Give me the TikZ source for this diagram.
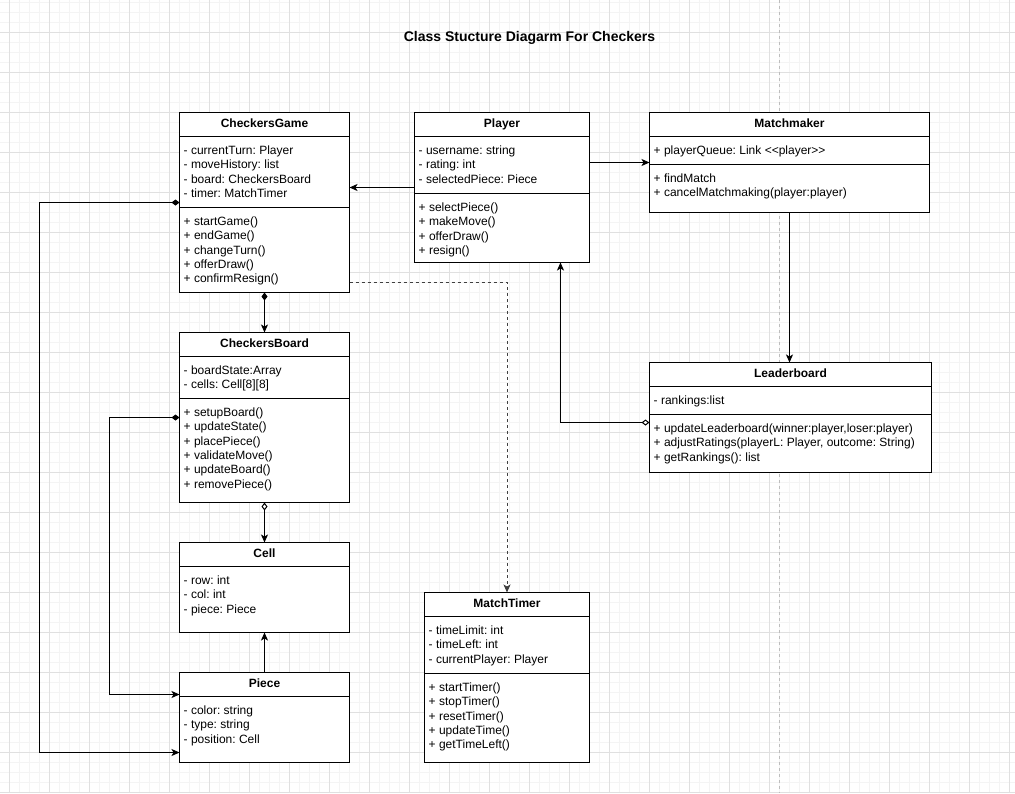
\documentclass[tikz,border=0pt]{standalone}
\usepackage{fontspec}
\setmainfont{Liberation Sans}
\usetikzlibrary{arrows.meta}
\definecolor{gridminor}{HTML}{F4F4F4}
\definecolor{gridmajor}{HTML}{E0E0E0}
\definecolor{pagebreak}{HTML}{BDBDBD}
\frenchspacing
\tikzset{
  box/.style={draw=black, line width=1pt, fill=white, inner sep=0pt, outer sep=0pt, anchor=north west},
  sep/.style={draw=black, line width=1pt},
  txt/.style={anchor=base west, inner sep=0pt, font=\fontsize{12}{14.4}\selectfont},
  ttl/.style={anchor=base, inner sep=0pt, font=\bfseries\fontsize{12}{14.4}\selectfont},
  conn/.style={draw=black, line width=1pt},
  uarr/.tip={Stealth[length=8pt,width=7pt,inset=2pt]},
  udia/.tip={Diamond[length=8pt,width=6pt]},
  uodia/.tip={Diamond[open,fill=white,length=8pt,width=6pt]}
}
\newcommand{\umlclass}[6]{%
  \node[box, minimum width=#4pt, minimum height=#5pt] (#1) at (#2,#3) {};
  \draw[sep] ({#2},{#3+24}) -- ({#2+#4},{#3+24});
  \node[ttl] (#1-title) at ({#2+#4/2},{#3+15.3}) {#6};
}
\newcommand{\umlsec}[5]{%
  \draw[sep] ({#1},{#3}) -- ({#2},{#3});
  \foreach \t [count=\i] in {#5}{%
    \node[txt] (#4\i) at ({#1+4},{#3+17.8+14.4*(\i-1)}) {\frenchspacing\t};
  }%
}
\begin{document}
\begin{tikzpicture}[x=1pt,y=-1pt]
\useasboundingbox (0,0) rectangle (1015,793);
\fill[white] (0,0) rectangle (1015,793);
% grid
\foreach \k in {0,...,100} \draw[gridminor, line width=1pt] ({9.5+10*\k},0) -- ({9.5+10*\k},793);
\foreach \k in {0,...,79} \draw[gridminor, line width=1pt] (0,{2.5+10*\k}) -- (1015,{2.5+10*\k});
\foreach \k in {0,...,25} \draw[gridmajor, line width=1pt] ({9.5+40*\k},0) -- ({9.5+40*\k},793);
\foreach \k in {0,...,19} \draw[gridmajor, line width=1pt] (0,{32.5+40*\k}) -- (1015,{32.5+40*\k});
\draw[pagebreak, line width=1pt, dash pattern=on 3pt off 3pt] (779.5,0) -- (779.5,793);

% title
\node[anchor=base, inner sep=0pt, font=\bfseries\fontsize{14}{16}\selectfont] (title) at (529.5,41.5) {Class Stucture Diagarm For Checkers};

% CheckersGame
\umlclass{cg}{179.5}{112.5}{170}{180}{CheckersGame}
\umlsec{179.5}{349.5}{136.5}{cga}{- currentTurn: Player,- moveHistory: list,- board: CheckersBoard,- timer: MatchTimer}
\umlsec{179.5}{349.5}{207.5}{cgm}{+ startGame(),+ endGame(),+ changeTurn(),+ offerDraw(),+ confirmResign()}

% Player
\umlclass{pl}{414.5}{112.5}{175}{150}{Player}
\umlsec{414.5}{589.5}{136.5}{pla}{- username: string,- rating: int,- selectedPiece: Piece}
\umlsec{414.5}{589.5}{193.5}{plm}{+ selectPiece(),+ makeMove(),+ offerDraw(),+ resign()}

% Matchmaker
\umlclass{mm}{649.5}{112.5}{280}{100}{Matchmaker}
\umlsec{649.5}{929.5}{136.5}{mma}{+ playerQueue: Link <\kern0pt<player>\kern0pt>}
\umlsec{649.5}{929.5}{164.5}{mmm}{+ findMatch,+ cancelMatchmaking(player:player)}

% Leaderboard
\umlclass{lb}{649.5}{362.5}{282}{110}{Leaderboard}
\umlsec{649.5}{931.5}{386.5}{lba}{- rankings:list}
\umlsec{649.5}{931.5}{414.5}{lbm}{{+ updateLeaderboard(winner:player,loser:player)},{+ adjustRatings(playerL: Player, outcome: String)},+ getRankings(): list}

% CheckersBoard
\umlclass{cb}{179.5}{332.5}{170}{170}{CheckersBoard}
\umlsec{179.5}{349.5}{356.5}{cba}{- boardState:Array,- cells: Cell[8][8]}
\umlsec{179.5}{349.5}{398.5}{cbm}{+ setupBoard(),+ updateState(),+ placePiece(),+ validateMove(),+ updateBoard(),+ removePiece()}

% Cell
\umlclass{ce}{179.5}{542.5}{170}{90}{Cell}
\umlsec{179.5}{349.5}{566.5}{cea}{- row: int,- col: int,- piece: Piece}

% Piece
\umlclass{pc}{179.5}{672.5}{170}{90}{Piece}
\umlsec{179.5}{349.5}{696.5}{pca}{- color: string,- type: string,- position: Cell}

% MatchTimer
\umlclass{mt}{424.5}{592.5}{165}{170}{MatchTimer}
\umlsec{424.5}{589.5}{616.5}{mta}{- timeLimit: int,- timeLeft: int,- currentPlayer: Player}
\umlsec{424.5}{589.5}{673.5}{mtm}{+ startTimer(),+ stopTimer(),+ resetTimer(),+ updateTime(),+ getTimeLeft()}

% connectors
\draw[conn,-uarr] (pl.west |- 0,187.5) -- (cg.east |- 0,187.5);
\draw[conn,-uarr] (pl.east |- 0,162.5) -- (mm.west |- 0,162.5);
\draw[conn,-uarr] (mm.south) -- (mm.south |- lb.north);
\draw[conn,uodia-uarr] (lb.west |- 0,422.5) -| (pl.south -| 560.5,0);
\draw[conn,draw=black!75,dash pattern=on 3pt off 3pt,-uarr] (cg.east |- 0,282.5) -| (mt.north);
\draw[conn,udia-uarr] (cg.south) -- (cb.north);
\draw[conn,uodia-uarr] (cb.south) -- (ce.north);
\draw[conn,-uarr] (pc.north) -- (ce.south);
\draw[conn,udia-uarr] (cb.west |- 0,417.5) -| (109.5,550) |- (pc.west |- 0,694.5);
\draw[conn,udia-uarr] (cg.west |- 0,202.5) -| (39.5,500) |- (pc.west |- 0,752.5);
\end{tikzpicture}
\end{document}
